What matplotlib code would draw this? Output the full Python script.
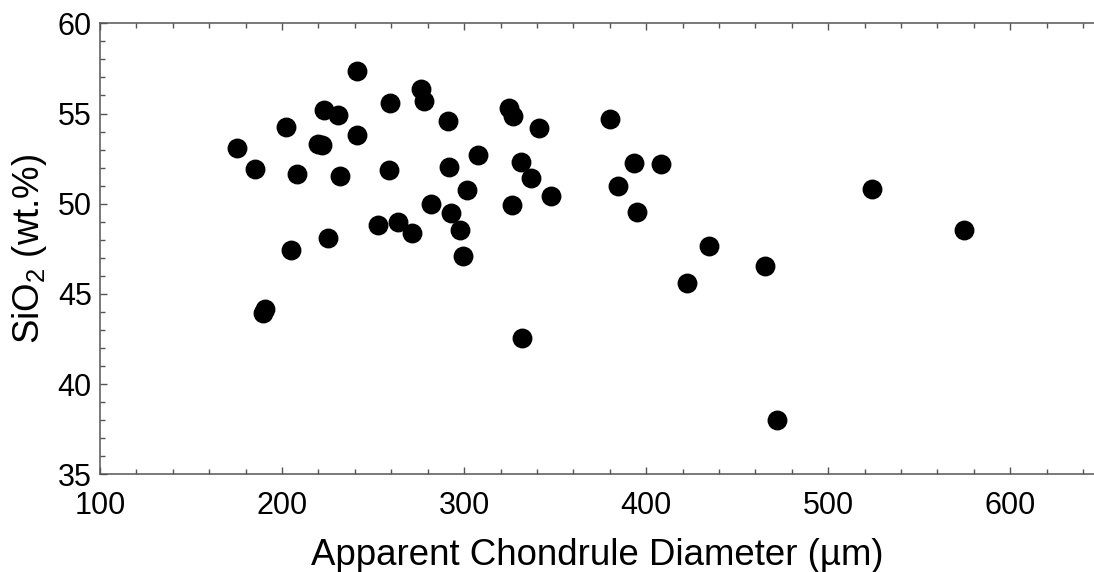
import matplotlib
matplotlib.use("Agg")
import matplotlib.pyplot as plt
from matplotlib.ticker import MultipleLocator

plt.rcParams["font.family"] = ["Liberation Sans", "DejaVu Sans"]
plt.rcParams["mathtext.default"] = "regular"

# apparent chondrule diameter (um) and SiO2 (wt.%)
diameter = [175.4, 184.9, 202.2, 208.0, 205.1, 222.9, 230.5, 219.9, 221.8, 232.0,
            225.3, 241.4, 241.0, 259.3, 258.9, 252.5, 263.5, 271.4, 276.5, 278.0,
            281.6, 291.2, 291.6, 293.0, 301.8, 297.8, 299.2, 307.9, 324.7, 326.7,
            341.4, 331.5, 336.8, 326.2, 347.6, 189.5, 190.5, 331.6, 380.0, 393.2,
            408.2, 384.4, 394.9, 434.3, 465.5, 422.7, 524.2, 472.1, 574.7]
sio2 = [53.09, 51.92, 54.26, 51.64, 47.42, 55.22, 54.92, 53.33, 53.24, 51.53,
        48.09, 57.37, 53.81, 55.61, 51.89, 48.83, 49.00, 48.39, 56.35, 55.68,
        50.00, 54.56, 52.02, 49.50, 50.76, 48.56, 47.11, 52.72, 55.33, 54.85,
        54.22, 52.31, 51.44, 49.94, 50.44, 43.95, 44.15, 42.56, 54.70, 52.26,
        52.22, 51.00, 49.53, 47.67, 46.53, 45.61, 50.83, 38.00, 48.56]

fig = plt.figure(figsize=(10.94, 5.72), dpi=100)
ax = fig.add_axes([0.0914, 0.1705, 0.9086, 0.7888])
ax.plot(diameter, sio2, "o", color="black", markersize=13.3, linestyle="none")

ax.set_xlim(100, 646)
ax.set_ylim(35, 60)
ax.xaxis.set_major_locator(MultipleLocator(100))
ax.xaxis.set_minor_locator(MultipleLocator(20))
ax.yaxis.set_major_locator(MultipleLocator(5))
ax.yaxis.set_minor_locator(MultipleLocator(1))

ax.spines["right"].set_visible(False)
for s in ["left", "bottom", "top"]:
    ax.spines[s].set_color("#555555")
    ax.spines[s].set_linewidth(1.1)

ax.tick_params(which="both", direction="in", top=True, right=False,
               color="#555555", width=1.0, labelsize=22)
ax.tick_params(which="major", length=5.3)
ax.tick_params(which="minor", length=3.4)
ax.tick_params(axis="x", pad=12)
ax.tick_params(axis="y", pad=6)

ax.set_xlabel("Apparent Chondrule Diameter (µm)", fontsize=26.4, labelpad=12)
ax.set_ylabel("SiO$_2$ (wt.%)", fontsize=26.4, labelpad=6)

fig.savefig("out.png", dpi=100)
